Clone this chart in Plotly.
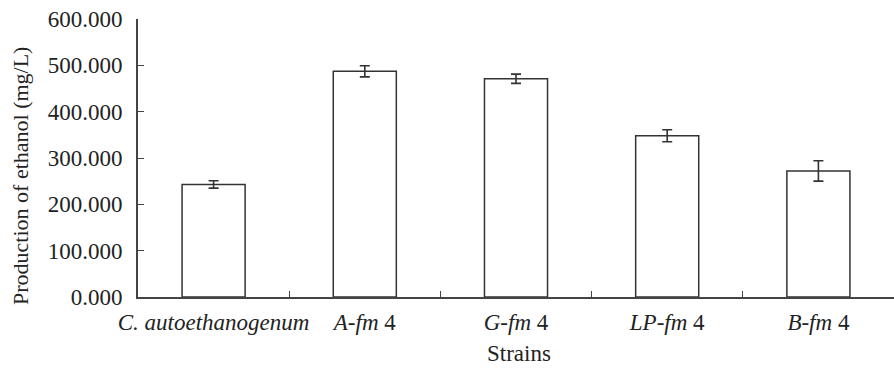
import plotly.graph_objects as go

strains = ["<i>C. autoethanogenum</i>", "<i>A-fm</i> 4", "<i>G-fm</i> 4", "<i>LP-fm</i> 4", "<i>B-fm</i> 4"]
ethanol = [243, 487, 471, 348, 272]
errors = [8, 12, 10, 13, 22]
y_ticks = [0, 100, 200, 300, 400, 500, 600]
y_tick_labels = ["0.000", "100.000", "200.000", "300.000", "400.000", "500.000", "600.000"]

font_family = "'Liberation Serif', 'Times New Roman', serif"

L, T, B, W, H = 138, 19, 71, 894, 368
pw, ph = W - L, H - T - B

fig = go.Figure()
fig.add_trace(go.Bar(
    x=strains,
    y=ethanol,
    marker=dict(color="white", line=dict(color="#333333", width=1.5)),
    error_y=dict(type="data", array=errors, visible=True, color="#333333", thickness=1.6, width=5),
))

fig.update_layout(
    width=W, height=H,
    margin=dict(l=L, r=0, t=T, b=B),
    paper_bgcolor="white", plot_bgcolor="white",
    bargap=0.583,
    showlegend=False,
    font=dict(family=font_family, size=23, color="#222222"),
    xaxis=dict(
        type="category",
        automargin=False,
        tickangle=0,
        showline=True, linecolor="#444444", linewidth=1.6,
        ticks="inside", ticklen=6, tickwidth=1.4, tickcolor="#444444",
        tickson="boundaries",
        showgrid=False, zeroline=False,
        tickfont=dict(size=23),
        ticklabelstandoff=4,
    ),
    yaxis=dict(
        automargin=False,
        range=[0, 600],
        tickvals=y_ticks, ticktext=y_tick_labels,
        showline=True, linecolor="#444444", linewidth=1.6,
        ticks="inside", ticklen=6, tickwidth=1.4, tickcolor="#444444",
        showgrid=False, zeroline=False,
        tickfont=dict(size=23),
        ticklabelstandoff=9,
    ),
    annotations=[
        dict(text="Production of ethanol (mg/L)", textangle=-90, showarrow=False,
             xref="paper", yref="paper", x=(20 - L) / pw, y=(H - B - 176) / ph,
             xanchor="center", yanchor="middle", font=dict(size=22)),
        dict(text="Strains", showarrow=False,
             xref="paper", yref="paper", x=(519 - L) / pw, y=(H - B - 353) / ph,
             xanchor="center", yanchor="middle", font=dict(size=23)),
    ],
)

fig.write_html("out.html")
